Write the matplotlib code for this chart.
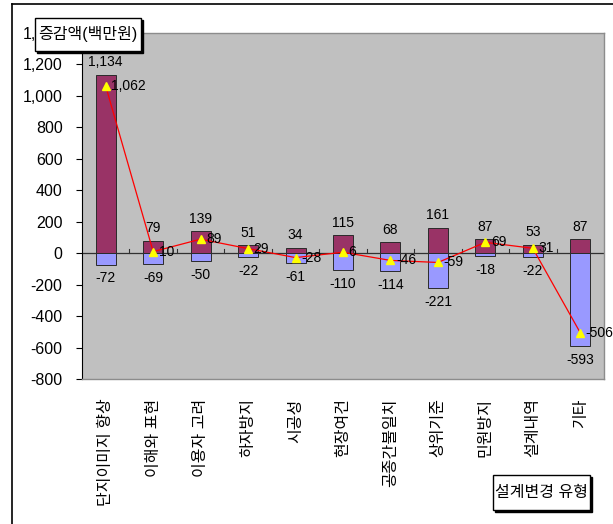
import matplotlib
matplotlib.use("Agg")
import matplotlib.pyplot as plt
from matplotlib.lines import Line2D
from matplotlib.patches import Rectangle
from matplotlib.ticker import FuncFormatter

plt.rcParams['font.family'] = ['Liberation Sans', 'Noto Sans CJK KR', 'DejaVu Sans']

categories = ['단지이미지 향상', '이해와 표현', '이용자 고려', '하자방지', '시공성', '현장여건',
              '공종간불일치', '상위기준', '민원방지', '설계내역', '기타']
increase = [1134, 79, 139, 51, 34, 115, 68, 161, 87, 53, 87]
decrease = [-72, -69, -50, -22, -61, -110, -114, -221, -18, -22, -593]
net = [1062, 10, 89, 29, -28, 6, -46, -59, 69, 31, -506]
yticks = [-800, -600, -400, -200, 0, 200, 400, 600, 800, 1000, 1200, 1400]
ylabel = '증감액(백만원)'
xlabel = '설계변경 유형'

W, H = 613, 524
fig = plt.figure(figsize=(W / 100, H / 100), dpi=100)
ax = fig.add_axes([82 / W, 1 - 379 / H, (604 - 82) / W, (379 - 33) / H])
ax.set_facecolor('#C0C0C0')

x = list(range(len(categories)))
bw = 0.42
ax.axhline(0, color='#303030', lw=0.9, zorder=1)
ax.bar(x, increase, width=bw, color='#993366', edgecolor='#2a2a2a', lw=0.7, zorder=2)
ax.bar(x, decrease, width=bw, color='#9999FF', edgecolor='#2a2a2a', lw=0.7, zorder=2)
ax.plot(x, net, color='#FF0000', lw=0.9, marker='^', markersize=6,
        markerfacecolor='#FFFF00', markeredgecolor='#FFFF00', zorder=4)

# category separator ticks on zero line
for b in range(1, len(categories)):
    ax.plot([b - 0.5, b - 0.5], [0, 25], color='#303030', lw=0.8, zorder=1)

fmt = lambda v: f'{v:,}'
for i in x:
    ax.annotate(fmt(increase[i]), (i, increase[i]), xytext=(0, 4), textcoords='offset points',
                ha='center', va='bottom', fontsize=10, zorder=5)
    ax.annotate(fmt(decrease[i]), (i, decrease[i]), xytext=(0, -5), textcoords='offset points',
                ha='center', va='top', fontsize=10, zorder=5)
    ax.annotate(fmt(net[i]), (i, net[i]), xytext=(4, 0), textcoords='offset points',
                ha='left', va='center', fontsize=10, zorder=5)

ax.set_xlim(-0.5, len(categories) - 0.5)
ax.set_ylim(-800, 1400)
ax.set_yticks(yticks)
ax.yaxis.set_major_formatter(FuncFormatter(lambda v, p: f'{int(v):,}'))
ax.tick_params(axis='y', labelsize=11.5, length=4, width=0.8, direction='out', pad=10)
ax.set_xticks(x)
ax.set_xticklabels(categories, rotation=90, fontsize=11.5, va='top', ha='center')
ax.tick_params(axis='x', length=0, pad=14)

for s in ['top', 'right', 'bottom']:
    ax.spines[s].set_color('#8c8c8c')
    ax.spines[s].set_linewidth(1.0)
ax.spines['left'].set_color('#000000')
ax.spines['left'].set_linewidth(0.8)

# outer frame lines
fig.add_artist(Line2D([12 / W, 1], [1 - 4 / H, 1 - 4 / H], color='black', lw=1.2, transform=fig.transFigure))
fig.add_artist(Line2D([12 / W, 12 / W], [0, 1 - 4 / H], color='black', lw=1.2, transform=fig.transFigure))

def boxed(x0, y0, x1, y1, text):
    fig.add_artist(Rectangle((x0 / W + 2 / W, 1 - (y1 + 2) / H), (x1 - x0) / W, (y1 - y0) / H,
                             transform=fig.transFigure, facecolor='black', edgecolor='black', lw=1, zorder=9))
    fig.add_artist(Rectangle((x0 / W, 1 - y1 / H), (x1 - x0) / W, (y1 - y0) / H,
                             transform=fig.transFigure, facecolor='white', edgecolor='black', lw=1, zorder=10))
    fig.text((x0 + x1) / 2 / W, 1 - (y0 + y1) / 2 / H, text, fontsize=11.5, ha='center', va='center',
             zorder=11)

boxed(35, 18, 141, 51, ylabel)
boxed(493, 475, 590, 510, xlabel)

fig.savefig('out.png', dpi=100)
